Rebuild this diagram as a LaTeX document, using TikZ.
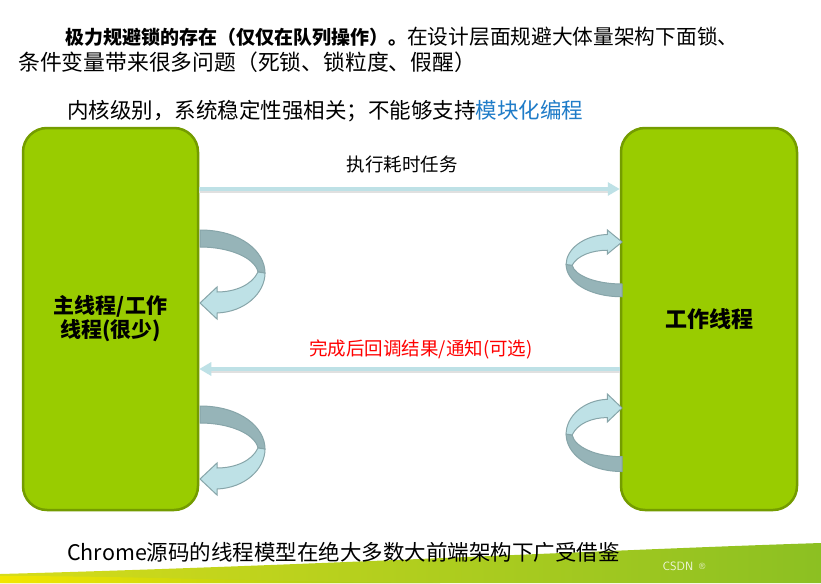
\documentclass[tikz,border=0pt]{standalone}
\usepackage{fontspec}
\setmainfont{Noto Sans CJK SC}
\usetikzlibrary{arrows.meta}
\definecolor{boxfill}{HTML}{99CC00}
\definecolor{boxline}{HTML}{749C00}
\definecolor{ribbonlight}{HTML}{BEE1E6}
\definecolor{ribbondark}{HTML}{96B4B8}
\definecolor{ribbonline}{HTML}{87A5A9}
\definecolor{linkblue}{HTML}{1F7CC8}
\definecolor{swyellow}{HTML}{D6DC1A}
\definecolor{swgreen}{HTML}{8CC022}
\definecolor{stripyellow}{HTML}{F2E600}
\newcommand{\fs}[1]{\fontsize{#1}{#1}\selectfont}
\tikzset{
	thread/.style={draw=boxline, line width=2.5pt, fill=boxfill, rounded corners=24pt, align=center, font=\fs{21}\bfseries},
	flow/.style={draw=ribbonlight, line width=4.5pt, -{Triangle[width=13pt,length=12pt]}},
	flowshadow/.style={draw=black!12, line width=4.5pt},
	tag/.style={inner sep=0pt, font=\fs{18.5}},
	note/.style={inner sep=0pt, anchor=west, font=\fs{20.7}},
	turn/.pic={
		\filldraw[fill=ribbondark, draw=ribbonline, line width=1pt] (0,-73) .. controls (40,-73) and (65,-52) .. (65,-30) -- (58,-31) .. controls (55,-45) and (30,-56) .. (0,-56) -- cycle;
		\filldraw[fill=ribbonlight, draw=ribbonline, line width=1pt] (58,-31) .. controls (52,-18) and (35,-11) .. (17,-11) -- (17,-16) -- (0,0) -- (17,16) -- (17,10) .. controls (45,9) and (65,-10) .. (65,-30) -- cycle;
	}
}
\begin{document}
\begin{tikzpicture}[x=1pt, y=-1pt]
	\useasboundingbox (0,0) rectangle (821,583);
	\fill[white] (0,0) rectangle (821,583);

	% --- swoosh at the bottom ---
	\shade[left color=swyellow, right color=swgreen] (0,574) .. controls (300,566) and (600,550) .. (821,543) -- (821,583) -- (0,583) -- cycle;
	\shade[left color=stripyellow, right color=swgreen!80!stripyellow] (0,576) .. controls (150,576) and (300,583) .. (440,583) -- (0,583) -- cycle;
	\node[inner sep=0pt, text=white, opacity=0.85, font=\fs{12}\sffamily] (mark) at (684,566) {CSDN \,\raisebox{1pt}{\fs{9}®}};

	% --- texts on top ---
	\node[note] (line1) at (65,37) {{\fs{19}\bfseries 极力规避锁的存在（仅仅在队列操作）。}在设计层面规避大体量架构下面锁、};
	\node[note, font=\fs{21.8}] (line2) at (18,62) {条件变量带来很多问题（死锁、锁粒度、假醒）};
	\node[note, font=\fs{21.5}] (line3) at (67,111) {内核级别，系统稳定性强相关；不能够支持\textcolor{linkblue}{模块化编程}};

	% --- threads ---
	\node[thread, minimum width=175pt, minimum height=382pt] (main) at (110.5,319) {主线程/工作\\[1pt]线程(很少)};
	\node[thread, minimum width=176pt, minimum height=382pt, font=\fs{22}\bfseries] (work) at (709,319) {工作线程};

	% --- messages ---
	\draw[flowshadow] ([yshift=128pt]main.east) -- ([yshift=128pt,xshift=-10pt]work.west);
	\draw[flow] ([yshift=130pt]main.east) -- ([yshift=130pt]work.west);
	\node[tag] (post) at (402,164) {执行耗时任务};

	\draw[flowshadow] ([yshift=-52pt]work.west) -- ([yshift=-52pt,xshift=10pt]main.east);
	\draw[flow] ([yshift=-50pt]work.west) -- ([yshift=-50pt]main.east);
	\node[tag, text=red] (reply) at (421,349) {完成后回调结果/通知(可选)};

	% --- loops ---
	\pic at (200,303) {turn};
	\pic at (200,479) {turn};
	\pic[rotate=180, xscale=0.86, yscale=0.75] at (622,242) {turn};
	\pic[rotate=180, xscale=0.86, yscale=0.87] at (622,408) {turn};

	\node[note, font=\fs{21.5}] (footer) at (67,552) {Chrome源码的线程模型在绝大多数大前端架构下广受借鉴};
\end{tikzpicture}
\end{document}
